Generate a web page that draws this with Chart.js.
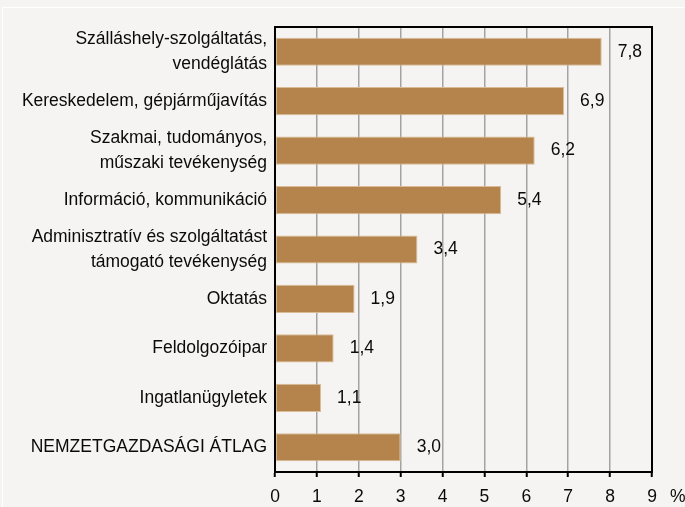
<!DOCTYPE html>
<html>
<head>
<meta charset="utf-8">
<script src="https://cdn.jsdelivr.net/npm/chart.js@4"></script>
<style>
  html, body { margin: 0; padding: 0; background: #f5f4f2; }
  #wrap { position: relative; width: 685px; height: 507px; }
  #frame { position: absolute; left: 2px; top: 7px; right: -2px; bottom: -2px; border-left: 1px solid #fff; border-top: 1px solid #fff; pointer-events: none; }
  canvas { display: block; }
</style>
</head>
<body>
<div id="wrap">
  <canvas id="chart" width="685" height="507"></canvas>
  <div id="frame"></div>
</div>
<script>
const categories = [
  ['Szálláshely-szolgáltatás,', 'vendéglátás'],
  'Kereskedelem, gépjárműjavítás',
  ['Szakmai, tudományos,', 'műszaki tevékenység'],
  'Információ, kommunikáció',
  ['Adminisztratív és szolgáltatást', 'támogató tevékenység'],
  'Oktatás',
  'Feldolgozóipar',
  'Ingatlanügyletek',
  'NEMZETGAZDASÁGI ÁTLAG'
];
const values = [7.8, 6.9, 6.2, 5.4, 3.4, 1.9, 1.4, 1.1, 3.0];
const xTicks = [0, 1, 2, 3, 4, 5, 6, 7, 8, 9];

const FONT = 'Liberation Sans, Arial, sans-serif';
const TEXT = '#0a0a0a';

// black frame round the plot, value labels, and the % unit
const frameAndLabels = {
  id: 'frameAndLabels',
  afterDraw(chart) {
    const { ctx, chartArea } = chart;
    const meta = chart.getDatasetMeta(0);
    ctx.save();
    ctx.strokeStyle = '#000';
    ctx.lineWidth = 2;
    ctx.strokeRect(chartArea.left, chartArea.top, chartArea.right - chartArea.left, chartArea.bottom - chartArea.top);

    ctx.fillStyle = TEXT;
    ctx.font = '17.5px ' + FONT;
    ctx.textAlign = 'left';
    ctx.textBaseline = 'middle';
    meta.data.forEach((bar, i) => {
      ctx.fillText(values[i].toFixed(1).replace('.', ','), bar.x + 16, bar.y);
    });

    ctx.fillText('%', chartArea.right + 18, 497);
    ctx.restore();
  }
};

new Chart(document.getElementById('chart'), {
  type: 'bar',
  data: {
    labels: categories,
    datasets: [{
      data: values,
      backgroundColor: '#b5844c',
      borderColor: '#d9bc95',
      borderWidth: 1,
      borderSkipped: false,
      barPercentage: 0.57,
      categoryPercentage: 1
    }]
  },
  options: {
    indexAxis: 'y',
    responsive: false,
    animation: false,
    layout: { padding: { top: 27, right: 33, left: 0, bottom: 0 } },
    plugins: { legend: { display: false }, tooltip: { enabled: false } },
    scales: {
      x: {
        min: 0,
        max: 9,
        afterBuildTicks(scale) {
          scale.ticks = xTicks.map(v => ({ value: v }));
        },
        afterFit(scale) { scale.height = 35; },
        grid: {
          color: '#a3a3a3',
          lineWidth: 1.5,
          tickColor: '#000',
          tickLength: 5,
          tickWidth: 2
        },
        border: { color: '#000', width: 2 },
        ticks: {
          color: TEXT,
          padding: 10,
          font: { family: FONT, size: 17.5 },
          maxRotation: 0
        }
      },
      y: {
        afterFit(scale) { scale.width = 275; },
        grid: { display: false, drawTicks: false },
        border: { color: '#000', width: 2 },
        ticks: {
          color: TEXT,
          padding: 8,
          autoSkip: false,
          font: { family: FONT, size: 17.5, lineHeight: 1.4 }
        }
      }
    }
  },
  plugins: [frameAndLabels]
});
</script>
</body>
</html>
